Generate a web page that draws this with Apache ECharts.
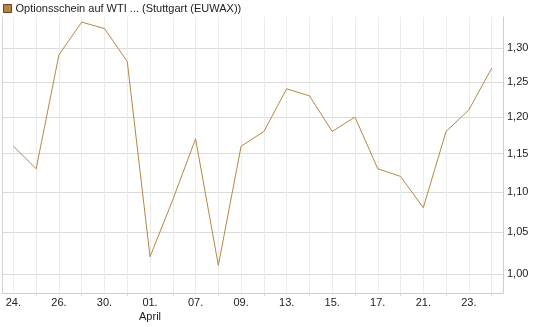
<!DOCTYPE html>
<html>
<head>
<meta charset="utf-8">
<script src="https://cdn.jsdelivr.net/npm/echarts@6/dist/echarts.min.js"></script>
<style>
  html, body { margin: 0; padding: 0; background: #fff; }
  #main { width: 545px; height: 327px; }
</style>
</head>
<body>
<div id="main"></div>
<script>
// Handelstage 24.03. - 24.04.
var days = ['24.03.', '25.03.', '26.03.', '27.03.', '30.03.', '31.03.', '01.04.', '02.04.',
            '07.04.', '08.04.', '09.04.', '10.04.', '13.04.', '14.04.', '15.04.', '16.04.',
            '17.04.', '20.04.', '21.04.', '22.04.', '23.04.', '24.04.'];
var kurse = [1.16, 1.13, 1.29, 1.34, 1.33, 1.28, 1.02, 1.09,
             1.17, 1.01, 1.16, 1.18, 1.24, 1.23, 1.18, 1.20,
             1.13, 1.12, 1.08, 1.18, 1.21, 1.27];
var yTicks = [1.00, 1.05, 1.10, 1.15, 1.20, 1.25, 1.30];
var monate = { '04': 'April' };

var serienName = 'Optionsschein auf WTI ... (Stuttgart (EUWAX))';
var font = 'Liberation Sans, Arial, sans-serif';

var myecharts = echarts.init(document.getElementById('main'));
var option = {
    animation: false,
    textStyle: { fontFamily: font },
    legend: {
        left: 3,
        top: 3,
        padding: 0,
        itemWidth: 8,
        itemHeight: 8,
        itemGap: 5,
        icon: 'rect',
        textStyle: { fontSize: 11, color: '#222', fontFamily: font, padding: [0, 0, 0, -1] },
        data: [{ name: serienName, itemStyle: { color: '#b8873f', borderColor: '#5e4420', borderWidth: 1 } }]
    },
    grid: { left: 2, right: 42, top: 17, bottom: 34 },
    xAxis: {
        type: 'category',
        boundaryGap: true,
        data: days,
        axisLine: { lineStyle: { color: '#cfcfcf' } },
        axisTick: {
            show: true,
            alignWithLabel: true,
            length: 3,
            interval: function (i) { return i % 2 === 1; },
            lineStyle: { color: '#d8d8d8' }
        },
        axisLabel: {
            interval: 1,
            margin: 3,
            fontSize: 11,
            color: '#222',
            lineHeight: 14,
            formatter: function (val, i) {
                var d = val.split('.');
                var txt = d[0] + '.';
                if (i > 0 && days[i - 1].split('.')[1] !== d[1]) {
                    txt += '\n' + (monate[d[1]] || '');
                }
                return txt;
            }
        },
        splitLine: {
            show: true,
            interval: 0,
            alignWithLabel: true,
            lineStyle: { color: '#ececec' }
        }
    },
    yAxis: [
        {
            type: 'log',
            position: 'right',
            min: 0.978,
            max: 1.348,
            axisLine: { show: true, lineStyle: { color: '#cfcfcf' } },
            axisTick: { show: false, customValues: yTicks },
            axisLabel: {
                customValues: yTicks,
                margin: 4,
                fontSize: 11,
                color: '#222',
                formatter: function (v) { return v.toFixed(2).replace('.', ','); }
            },
            splitLine: { show: true, lineStyle: { color: '#dcdcdc' } }
        },
        {
            type: 'log',
            position: 'left',
            min: 0.978,
            max: 1.348,
            axisLine: { show: true, lineStyle: { color: '#d4d4d4' } },
            axisTick: { show: false },
            axisLabel: { show: false },
            splitLine: { show: false }
        }
    ],
    series: [
        {
            name: serienName,
            type: 'line',
            data: kurse,
            showSymbol: false,
            lineStyle: { color: '#b8873f', width: 1 },
            itemStyle: { color: '#b8873f' }
        }
    ]
};
myecharts.setOption(option);
</script>
</body>
</html>
